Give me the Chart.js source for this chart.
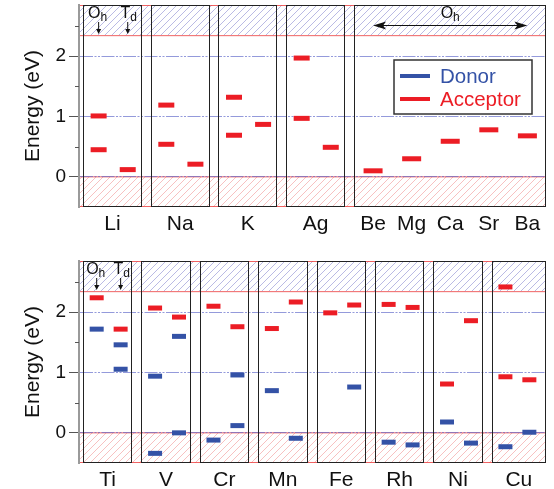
<!DOCTYPE html>
<html lang="en">
<head>
<meta charset="UTF-8">
<title>Impurity levels</title>
<script src="https://cdn.jsdelivr.net/npm/chart.js"></script>
<style>
  body { margin: 0; background: #fff; }
  canvas { display: block; }
</style>
</head>
<body>
<canvas id="topChart" width="554" height="245"></canvas>
<canvas id="bottomChart" width="554" height="244"></canvas>
<script>
// ---- values (eV) ----
const alkaliNames = ['Li', 'Na', 'K', 'Ag'];
const alkaliOhAcceptor = [[1.01, 0.45], [1.19, 0.54], [1.32, 0.69], [1.97, 0.97]];
const alkaliTdAcceptor = [[0.12], [0.21], [0.87], [0.49]];

const earthNames = ['Be', 'Mg', 'Ca', 'Sr', 'Ba'];
const earthOhAcceptor = [0.10, 0.30, 0.59, 0.78, 0.68];

const tmNames = ['Ti', 'V', 'Cr', 'Mn', 'Fe', 'Rh', 'Ni', 'Cu'];
const tmOhAcceptor = [[2.24], [2.07], [2.10], [1.73], [1.99], [2.13], [0.81], [2.42, 0.93]];
const tmOhDonor = [[1.72], [0.94, -0.34], [-0.12], [0.70], [], [-0.155], [0.18], [-0.23]];
const tmTdAcceptor = [[1.72], [1.92], [1.76], [2.17], [2.12], [2.08], [1.86], [0.88]];
const tmTdDonor = [[1.46, 1.055], [1.60, 0.0], [0.96, 0.12], [-0.09], [0.76], [-0.20], [-0.17], [0.01]];

const yTicks = [0, 0.5, 1, 1.5, 2, 2.5];
const yMin = -0.5;
const yMax = 2.85;
const cbEdge = 2.35;   // start of the hatched band at the top
const vbEdge = 0;      // end of the hatched band at the bottom

// ---- look ----
const donorColor = '#3452a6';
const acceptorColor = '#ec1d25';
const fontFamily = '"Liberation Sans", Arial, Helvetica, sans-serif';
const gridColor = 'rgba(90, 100, 200, 0.65)';

// x layout of each panel, in group units
const topLayout = { boxW: 0.87, oh: 0.23, td: 0.66, xMin: -0.06, xMax: 6.84, earthStart: 4, earthStep: 0.57 };
const botLayout = { boxW: 0.846, oh: 0.235, td: 0.645, xMin: -0.068, xMax: 7.93 };

const points = (groups, off) => {
  const out = [];
  groups.forEach((vals, i) => vals.forEach(v => out.push({ x: i + off, y: v })));
  return out;
};

const dash = (label, color, data, radius) => ({
  label, data,
  pointStyle: 'line', radius, hoverRadius: radius,
  borderWidth: 5, hoverBorderWidth: 5,
  borderColor: color, backgroundColor: color,
  showLine: false,
});

const makeHatch = (color) => {
  const c = document.createElement('canvas');
  c.width = c.height = 7;
  const g = c.getContext('2d');
  g.strokeStyle = color;
  g.lineWidth = 1;
  g.beginPath();
  g.moveTo(0, 7); g.lineTo(7, 0);
  g.moveTo(-1, 1); g.lineTo(1, -1);
  g.moveTo(6, 8); g.lineTo(8, 6);
  g.stroke();
  return c;
};

const subText = (ctx, main, sub, cx, base) => {
  ctx.font = '16px ' + fontFamily;
  const w1 = ctx.measureText(main).width;
  ctx.font = '12px ' + fontFamily;
  const w2 = ctx.measureText(sub).width;
  const x0 = cx - (w1 + w2) / 2;
  ctx.fillStyle = '#111';
  ctx.textAlign = 'left';
  ctx.textBaseline = 'alphabetic';
  ctx.font = '16px ' + fontFamily;
  ctx.fillText(main, x0, base);
  ctx.font = '12px ' + fontFamily;
  ctx.fillText(sub, x0 + w1, base + 3);
};

const downArrow = (ctx, x, y1, y2) => {
  ctx.strokeStyle = '#111';
  ctx.fillStyle = '#111';
  ctx.lineWidth = 1;
  ctx.beginPath();
  ctx.moveTo(x, y1); ctx.lineTo(x, y2 - 4);
  ctx.stroke();
  ctx.beginPath();
  ctx.moveTo(x - 2.5, y2 - 5); ctx.lineTo(x + 2.5, y2 - 5); ctx.lineTo(x, y2);
  ctx.closePath();
  ctx.fill();
};

const panelDeco = {
  id: 'panelDeco',
  beforeDraw(chart, args, o) {
    const { ctx, chartArea: a, scales: { y } } = chart;
    const yc = y.getPixelForValue(cbEdge);
    const yv = y.getPixelForValue(vbEdge);
    ctx.save();
    ctx.fillStyle = ctx.createPattern(makeHatch('rgba(140, 140, 210, 0.6)'), 'repeat');
    ctx.fillRect(a.left, a.top, a.right - a.left, yc - a.top);
    ctx.fillStyle = ctx.createPattern(makeHatch('rgba(242, 160, 160, 0.65)'), 'repeat');
    ctx.fillRect(a.left, yv, a.right - a.left, a.bottom - yv);
    ctx.strokeStyle = 'rgba(235, 60, 60, 0.8)';
    ctx.lineWidth = 1;
    ctx.strokeRect(a.left + 0.5, a.top + 0.5, a.right - a.left - 1, yc - a.top);
    ctx.strokeRect(a.left + 0.5, yv, a.right - a.left - 1, a.bottom - yv - 0.5);
    ctx.restore();
  },
  beforeDatasetsDraw(chart, args, o) {
    const { ctx, chartArea: a, scales: { x, y } } = chart;
    ctx.save();
    // minor ticks
    ctx.strokeStyle = '#555';
    ctx.lineWidth = 1;
    yTicks.filter(v => !Number.isInteger(v)).forEach(v => {
      const py = Math.round(y.getPixelForValue(v)) + 0.5;
      ctx.beginPath(); ctx.moveTo(a.left - 4, py); ctx.lineTo(a.left, py); ctx.stroke();
    });
    // group boxes
    ctx.strokeStyle = '#222';
    o.boxes.forEach(([b0, b1]) => {
      const x0 = Math.round(x.getPixelForValue(b0)) + 0.5;
      const x1 = Math.round(x.getPixelForValue(b1)) - 0.5;
      ctx.strokeRect(x0, Math.round(a.top) + 0.5, x1 - x0, Math.round(a.bottom - a.top) - 1);
    });
    ctx.restore();
  },
  afterDraw(chart, args, o) {
    const { ctx, chartArea: a, scales: { x } } = chart;
    ctx.save();
    const xo = x.getPixelForValue(o.ohX);
    const xt = x.getPixelForValue(o.tdX);
    subText(ctx, 'O', 'h', xo - 1, a.top + 13);
    subText(ctx, 'T', 'd', xt + 1, a.top + 13);
    downArrow(ctx, xo, a.top + 17, a.top + 29);
    downArrow(ctx, xt, a.top + 17, a.top + 29);

    if (o.span) {
      const x1 = x.getPixelForValue(o.span[0]);
      const x2 = x.getPixelForValue(o.span[1]);
      const ay = a.top + 20.5;
      subText(ctx, 'O', 'h', (x1 + x2) / 2, a.top + 13);
      ctx.strokeStyle = '#111';
      ctx.fillStyle = '#111';
      ctx.lineWidth = 1.2;
      ctx.beginPath(); ctx.moveTo(x1 + 8, ay); ctx.lineTo(x2 - 8, ay); ctx.stroke();
      ctx.beginPath(); ctx.moveTo(x1, ay); ctx.lineTo(x1 + 13, ay - 4); ctx.lineTo(x1 + 10, ay); ctx.lineTo(x1 + 13, ay + 4); ctx.closePath(); ctx.fill();
      ctx.beginPath(); ctx.moveTo(x2, ay); ctx.lineTo(x2 - 13, ay - 4); ctx.lineTo(x2 - 10, ay); ctx.lineTo(x2 - 13, ay + 4); ctx.closePath(); ctx.fill();
    }

    if (o.legend) {
      const bx = a.right - 152, by = a.top + 55, bw = 138, bh = 54;
      ctx.fillStyle = '#fff';
      ctx.fillRect(bx, by, bw, bh);
      ctx.strokeStyle = '#333';
      ctx.lineWidth = 1.5;
      ctx.strokeRect(bx, by, bw, bh);
      ctx.font = '20.5px ' + fontFamily;
      ctx.textAlign = 'left';
      ctx.textBaseline = 'middle';
      o.legend.forEach((item, i) => {
        const ly = by + 16 + i * 23;
        ctx.strokeStyle = item.color;
        ctx.lineWidth = 4;
        ctx.beginPath(); ctx.moveTo(bx + 6, ly); ctx.lineTo(bx + 36, ly); ctx.stroke();
        ctx.fillStyle = item.color;
        ctx.fillText(item.text, bx + 46, ly + 1);
      });
    }
    ctx.restore();
  },
};

const yScale = () => ({
  type: 'linear',
  min: yMin,
  max: yMax,
  afterFit: s => { s.width = 79; s.paddingTop = 0; s.paddingBottom = 0; },
  afterBuildTicks: s => { s.ticks = yTicks.map(v => ({ value: v })); },
  ticks: {
    callback: v => Number.isInteger(v) ? String(v) : '',
    padding: 3,
    font: { family: fontFamily, size: 19 },
    color: '#111',
  },
  grid: {
    color: c => (c.tick && Number.isInteger(c.tick.value)) ? gridColor : 'rgba(0,0,0,0)',
    lineWidth: 1,
    tickLength: 10,
    tickColor: c => (c.tick && Number.isInteger(c.tick.value)) ? '#555' : 'rgba(0,0,0,0)',
  },
  border: { color: '#9a9a9a', width: 2, dash: [13, 1.5, 2, 1.5, 2, 1.5] },
  title: {
    display: true,
    text: 'Energy (eV)',
    font: { family: fontFamily, size: 21 },
    color: '#111',
    padding: { top: 21, bottom: 0 },
  },
});

const xScale = (lay, labelPos, labelNames, height) => ({
  type: 'linear',
  min: lay.xMin,
  max: lay.xMax,
  afterFit: s => { s.height = height; s.paddingLeft = 0; s.paddingRight = 0; },
  afterBuildTicks: s => { s.ticks = labelPos.map(v => ({ value: v })); },
  ticks: {
    callback: (v, i) => labelNames[i],
    autoSkip: false,
    maxRotation: 0,
    padding: 5,
    font: { family: fontFamily, size: 21 },
    color: '#111',
  },
  grid: { display: false, drawTicks: false },
  border: { display: false },
});

const baseOptions = (padding, scales, deco) => ({
  responsive: false,
  animation: false,
  devicePixelRatio: 1,
  layout: { padding, autoPadding: false },
  plugins: { legend: { display: false }, tooltip: { enabled: false }, panelDeco: deco },
  scales,
});

// ---- top panel ----
const topBoxes = alkaliNames.map((_, i) => [i, i + topLayout.boxW]);
topBoxes.push([topLayout.earthStart, topLayout.xMax]);
const earthX = earthNames.map((_, k) => topLayout.earthStart + topLayout.earthStep * (k + 0.5));
const topLabelPos = alkaliNames.map((_, i) => i + topLayout.boxW / 2).concat(earthX);

new Chart(document.getElementById('topChart'), {
  type: 'scatter',
  data: {
    datasets: [
      dash('Acceptor', acceptorColor, points(alkaliOhAcceptor, topLayout.oh), 8),
      dash('Acceptor', acceptorColor, points(alkaliTdAcceptor, topLayout.td), 8),
      dash('Acceptor', acceptorColor, earthOhAcceptor.map((v, k) => ({ x: earthX[k], y: v })), 9.5),
    ],
  },
  options: baseOptions(
    { left: 0, right: 8, top: 5, bottom: 0 },
    { x: xScale(topLayout, topLabelPos, alkaliNames.concat(earthNames), 38), y: yScale() },
    {
      boxes: topBoxes,
      ohX: topLayout.oh,
      tdX: topLayout.td,
      span: [earthX[0], earthX[earthX.length - 1]],
      legend: [{ text: 'Donor', color: donorColor }, { text: 'Acceptor', color: acceptorColor }],
    }
  ),
  plugins: [panelDeco],
});

// ---- bottom panel ----
const botBoxes = tmNames.map((_, i) => [i, i === tmNames.length - 1 ? botLayout.xMax : i + botLayout.boxW]);
const botLabelPos = botBoxes.map(([b0, b1]) => (b0 + b1) / 2);

new Chart(document.getElementById('bottomChart'), {
  type: 'scatter',
  data: {
    datasets: [
      dash('Acceptor', acceptorColor, points(tmOhAcceptor, botLayout.oh), 7),
      dash('Acceptor', acceptorColor, points(tmTdAcceptor, botLayout.td), 7),
      dash('Donor', donorColor, points(tmOhDonor, botLayout.oh), 7),
      dash('Donor', donorColor, points(tmTdDonor, botLayout.td), 7),
    ],
  },
  options: baseOptions(
    { left: 0, right: 8, top: 16, bottom: 0 },
    { x: xScale(botLayout, botLabelPos, tmNames, 26), y: yScale() },
    { boxes: botBoxes, ohX: botLayout.oh, tdX: botLayout.td }
  ),
  plugins: [panelDeco],
});
</script>
</body>
</html>
